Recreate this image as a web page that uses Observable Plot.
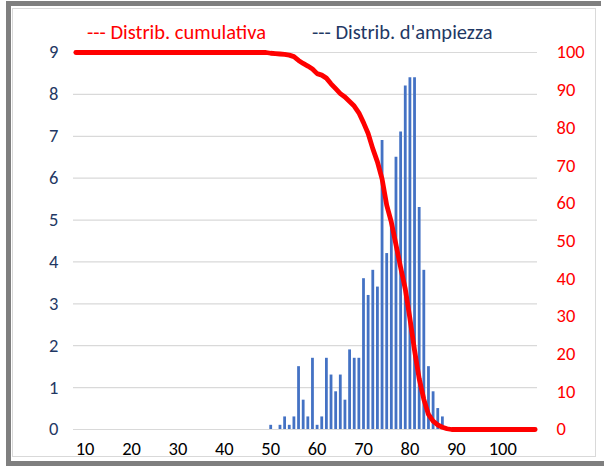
<!DOCTYPE html>
<html>
<head>
<meta charset="utf-8">
<script src="https://cdn.jsdelivr.net/npm/d3@7"></script>
<script src="https://cdn.jsdelivr.net/npm/@observablehq/plot@0.6"></script>
<style>
  html, body { margin: 0; padding: 0; background: #fff; }
  #wrap { position: relative; width: 604px; height: 466px; overflow: hidden; background: #fff; font-family: Carlito, Calibri, Lato, sans-serif; }
  .g { position: absolute; background: #7f7f7f; }
  #inner { position: absolute; left: 12px; top: 8px; width: 584px; height: 449px; border: 1px solid #d9d9d9; box-sizing: border-box; }
  #chart { position: absolute; left: 0; top: 0; }
  .leg { position: absolute; top: 20px; font-size: 20.5px; line-height: 24px; white-space: nowrap; }
</style>
</head>
<body>
<div id="wrap">
  <div class="g" style="left:6px;top:1px;width:595px;height:5px"></div>
  <div class="g" style="left:6px;top:1px;width:5px;height:465px"></div>
  <div class="g" style="left:6px;top:461px;width:598px;height:5px"></div>
  <div id="inner"></div>
  <div id="chart"></div>
  <div class="leg" style="left:87px;color:#ff0000">--- Distrib. cumulativa</div>
  <div class="leg" style="left:312px;color:#1f3864">--- Distrib. d'ampiezza</div>
</div>
<script>
// Amplitude distribution (bars, left axis, %)
const barCats = [50,51,52,53,54,55,56,57,58,59,60,61,62,63,64,65,66,67,68,69,70,71,72,73,74,75,76,77,78,79,80,81,82,83,84,85,86,87];
const barVals = [0.1,0,0.1,0.3,0.1,0.3,1.5,0.7,0.3,1.7,0.1,0.3,1.7,1.3,0.9,1.3,0.7,1.9,1.7,1.7,3.6,3.2,3.8,3.4,6.9,4.2,5.0,6.5,7.1,8.2,8.4,8.4,5.3,3.8,1.5,0.9,0.5,0.3];

// Cumulative distribution (line, right axis, %)
const lineCats = [8,9,10,11,12,13,14,15,16,17,18,19,20,21,22,23,24,25,26,27,28,29,30,31,32,33,34,35,36,37,38,39,40,41,42,43,44,45,46,47,48,49,
  50,51,52,53,54,55,56,57,58,59,60,61,62,63,64,65,66,67,68,69,70,71,72,73,74,75,76,77,78,79,80,81,82,83,84,85,86,87,88,
  89,90,91,92,93,94,95,96,97,98,99,100,101,102,103,104,105,106,107];
const lineVals = [100,100,100,100,100,100,100,100,100,100,100,100,100,100,100,100,100,100,100,100,100,100,100,100,100,100,100,100,100,100,100,100,100,100,100,100,100,100,100,100,100,100,
  99.8,99.7,99.6,99.5,99.3,98.9,97.9,97.1,96.4,95.6,94.4,94.0,93.2,91.7,90.4,89.1,88.2,87.0,85.8,84.0,81.4,78.5,74.5,71.0,66.5,59.5,55.0,49.0,43.0,37.3,29.5,21.0,13.5,8.0,4.0,2.2,1.2,0.6,0.2,
  0,0,0,0,0,0,0,0,0,0,0,0,0,0,0,0,0,0,0];

const xTicks = [10,20,30,40,50,60,70,80,90,100];
const leftTicks = [0,1,2,3,4,5,6,7,8,9];
const rightTicks = [0,10,20,30,40,50,60,70,80,90,100];

const leftMax = 9, rightMax = 100;
const bars = barCats.map((c, i) => ({c, v: barVals[i]}));
const cum = lineCats.map((c, i) => ({c, v: lineVals[i] * leftMax / rightMax}));

const font = "Carlito, Calibri, Lato, sans-serif";
const fs = 18.5;

const plot = Plot.plot({
  width: 604,
  height: 466,
  marginLeft: 73,
  marginRight: 67,
  marginTop: 52,
  marginBottom: 37,
  style: {fontFamily: font, background: "transparent", overflow: "visible"},
  x: {type: "linear", domain: [7.5, 107.5]},
  y: {domain: [0, leftMax]},
  marks: [
    Plot.ruleY(leftTicks, {stroke: "#d9d9d9", strokeWidth: 1.2}),
    Plot.ruleX(bars, {x: "c", y1: 0, y2: "v", stroke: "#4472c4", strokeWidth: 2.8}),
    Plot.line(cum, {x: "c", y: "v", stroke: "#ff0000", strokeWidth: 4.8, strokeLinejoin: "round", strokeLinecap: "round"}),
    Plot.axisX({ticks: xTicks, tickSize: 0, tickPadding: 12, fontSize: fs, fill: "#000", label: null, tickFormat: d => String(d)}),
    Plot.axisY({anchor: "left", ticks: leftTicks, tickSize: 0, tickPadding: 15, fontSize: fs, fill: "#1f3864", label: null, tickFormat: d => String(d)}),
    Plot.axisY({anchor: "right", ticks: rightTicks.map(t => t * leftMax / rightMax), tickSize: 0, tickPadding: 19, fontSize: fs, fill: "#ff0000", label: null, textAnchor: "start", tickFormat: t => String(Math.round(t * rightMax / leftMax))})
  ]
});
document.getElementById("chart").appendChild(plot);
</script>
</body>
</html>
